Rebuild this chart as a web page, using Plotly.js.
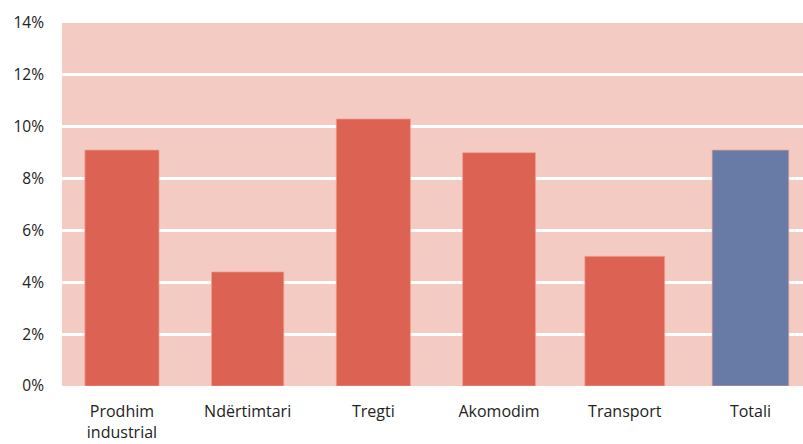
<!DOCTYPE html>
<html><head><meta charset="utf-8">
<script src="https://cdn.plot.ly/plotly-3.0.1.min.js"></script>
<style>html,body{margin:0;padding:0;background:#fff}#c{width:803px;height:444px}</style>
</head><body><div id="c"></div>
<script>
const categories = ["Prodhim<br>industrial", "Ndërtimtari", "Tregti", "Akomodim", "Transport", "Totali"];
const values = [9.1, 4.4, 10.3, 9.0, 5.0, 9.1];
const barColors = ["#DC6353", "#DC6353", "#DC6353", "#DC6353", "#DC6353", "#687BA7"];
const yTicks = [0, 2, 4, 6, 8, 10, 12, 14];
const yTickText = yTicks.map(v => v + "%");

const idx = categories.map((_, i) => i);
Plotly.newPlot("c", [{
  type: "bar",
  x: idx,
  y: values,
  width: [0.59, 0.575, 0.59, 0.58, 0.635, 0.61],
  marker: {color: barColors, line: {color: "rgba(240,160,150,0.7)", width: 1}},
  hoverinfo: "skip"
}], {
  width: 803, height: 444,
  margin: {l: 62, r: 0, t: 23, b: 58},
  paper_bgcolor: "#ffffff",
  plot_bgcolor: "#F4CBC2",
  showlegend: false,
  font: {family: "'Open Sans', Lato, sans-serif", size: 15, color: "#222222"},
  xaxis: {
    range: [-0.477, 5.418],
    tickmode: "array", tickvals: idx, ticktext: categories,
    showgrid: false, zeroline: false, showline: false,
    ticks: "", ticklabelstandoff: 14,
    tickfont: {family: "'Open Sans', sans-serif", size: 16, color: "#222222"}
  },
  yaxis: {
    range: [0, 14],
    tickmode: "array", tickvals: yTicks, ticktext: yTickText,
    showgrid: true, gridcolor: "#ffffff", gridwidth: 3,
    zeroline: false, showline: false,
    ticks: "", ticklabelstandoff: 17,
    tickfont: {family: "'Open Sans', sans-serif", size: 15.5, color: "#222222"}
  }
}, {staticPlot: true});
</script></body></html>
